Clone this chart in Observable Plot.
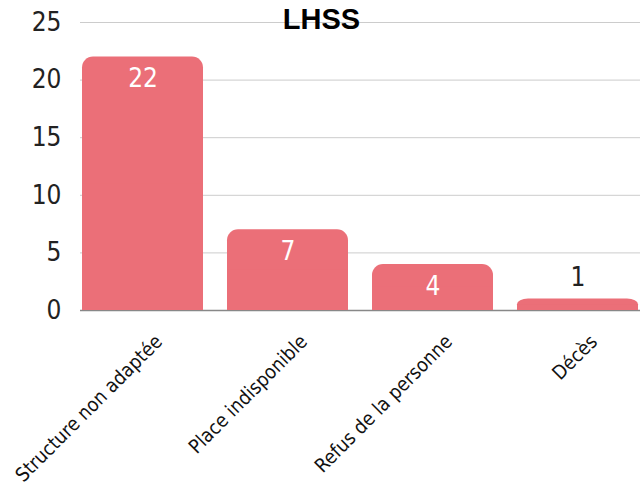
<!DOCTYPE html>
<html>
<head>
<meta charset="utf-8">
<script src="https://cdn.jsdelivr.net/npm/d3@7"></script>
<script src="https://cdn.jsdelivr.net/npm/@observablehq/plot@0.6"></script>
<style>
  html, body { margin: 0; padding: 0; background: #fff; }
  #chart svg { display: block; }
</style>
</head>
<body>
<div id="chart"></div>
<script>
const title = "LHSS";
const categories = ["Structure non adaptée", "Place indisponible", "Refus de la personne", "Décès"];
const values = [22, 7, 4, 1];
const yTicks = [0, 5, 10, 15, 20, 25];

const data = categories.map((c, i) => ({category: c, value: values[i]}));
const barColor = "#EB6F78";
const font = "'DejaVu Sans Condensed', 'DejaVu Sans', sans-serif";

const chart = Plot.plot({
  width: 640,
  height: 484,
  marginTop: 22,
  marginBottom: 174,
  marginLeft: 80,
  marginRight: 0,
  style: {fontFamily: font, background: "#fff", fontStretch: "condensed"},
  x: {domain: categories, paddingInner: 0.164, paddingOuter: 0, axis: null},
  y: {domain: [0, 25], ticks: yTicks, axis: null},
  marks: [
    Plot.gridY(yTicks.filter(d => d > 0), {stroke: "#cccccc", strokeOpacity: 1, strokeWidth: 1}),
    Plot.ruleY([0], {stroke: "#888888", strokeWidth: 1.5}),
    Plot.axisY({ticks: yTicks, tickSize: 0, tickPadding: 19, fontSize: 26, fill: "#222", fontWeight: 200, label: null}),
    Plot.barY(data, {x: "category", y: "value", fill: barColor, rx: 11}),
    Plot.barY(data, {x: "category", y1: 0, y2: d => d.value / 2, fill: barColor}),
    Plot.text(data, {
      x: "category", y: "value",
      text: d => String(d.value),
      fill: "#ffffff",
      fontSize: 26, fontWeight: 200,
      filter: d => d.value >= 3,
      dy: 22
    }),
    Plot.text(data, {
      x: "category", y: "value",
      text: d => String(d.value),
      fill: "#222222",
      fontSize: 26, fontWeight: 200,
      filter: d => d.value < 3,
      dy: -21
    }),
    Plot.text(data, {
      x: "category", y: 0,
      text: "category",
      rotate: -45,
      textAnchor: "end",
      lineAnchor: "middle",
      fontSize: 19.5,
      fontWeight: 200,
      fill: "#111",
      dx: 16,
      dy: 28
    }),
    Plot.text([title], {
      frameAnchor: "top",
      lineAnchor: "middle",
      dx: -39,
      dy: -3,
      fontSize: 29,
      fontWeight: "bold",
      fontFamily: "'Liberation Sans', Arial, sans-serif",
      fill: "#000"
    })
  ]
});
document.getElementById("chart").appendChild(chart);
</script>
</body>
</html>
